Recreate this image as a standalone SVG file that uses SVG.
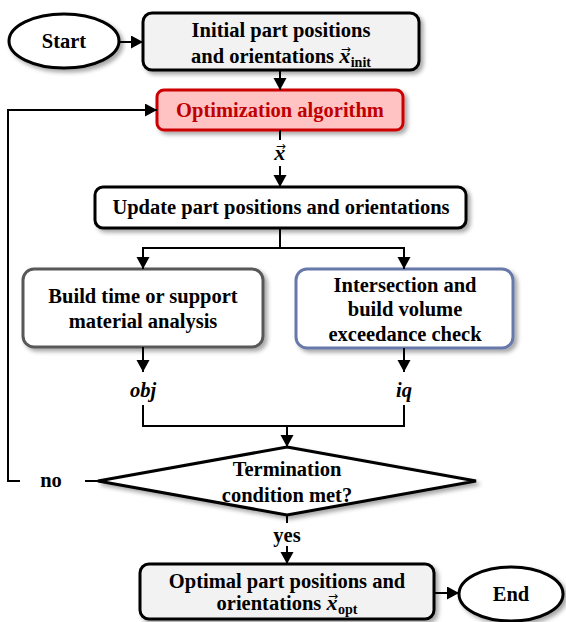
<svg xmlns="http://www.w3.org/2000/svg" width="566" height="622" viewBox="0 0 566 622">
<defs>
<filter id="sh" x="-10%" y="-10%" width="130%" height="140%">
<feDropShadow dx="3" dy="3" stdDeviation="2" flood-color="#000" flood-opacity="0.35"/>
</filter>
<marker id="ah" markerUnits="userSpaceOnUse" markerWidth="14" markerHeight="14" refX="12" refY="6.5" orient="auto">
<path d="M0,0 L12,6.5 L0,13 z" fill="#000"/>
</marker>
</defs>
<style>
text{font-family:"Liberation Serif","Times New Roman",serif;font-weight:bold;font-size:20.5px;fill:#000;text-anchor:middle}
.node{stroke-width:3}
.blk{fill:#fff;stroke:#000}
.gry{fill:#f2f2f2;stroke:#000}
.con{fill:none;stroke:#000;stroke-width:2}
.arr{marker-end:url(#ah)}
.vx{font-style:italic;font-weight:bold;font-size:22px}
.va{font-family:"DejaVu Sans",sans-serif;font-weight:normal;font-size:12px}
.sub{font-size:14px}
.it{font-style:italic}
</style>

<g id="start">
<ellipse class="node blk" cx="64" cy="41" rx="55" ry="27" filter="url(#sh)"/>
<text x="64" y="48">Start</text>
</g>

<g id="init">
<rect class="node gry" x="143" y="13" width="276" height="57" rx="9" filter="url(#sh)"/>
<text x="281" y="37">Initial part positions</text>
<text x="281" y="63">and orientations <tspan class="vx">x</tspan><tspan class="va" dx="-9.5" dy="-10">→</tspan><tspan class="sub" dy="14">init</tspan></text>
</g>

<g id="optim">
<rect class="node" x="157" y="90" width="246" height="40" rx="7" fill="#ffc3c3" stroke="#cc0000" filter="url(#sh)"/>
<text x="280" y="117" style="fill:#c00000">Optimization algorithm</text>
</g>

<g id="update">
<rect class="node blk" x="95" y="187" width="371" height="41" rx="8" filter="url(#sh)"/>
<text x="281" y="214">Update part positions and orientations</text>
</g>

<g id="analysis">
<rect class="node" x="23" y="269" width="240" height="78" rx="11" fill="#fff" stroke="#595959" filter="url(#sh)"/>
<text x="143" y="303">Build time or support</text>
<text x="143" y="328">material analysis</text>
</g>

<g id="check">
<rect class="node" x="296" y="269" width="217" height="79" rx="11" fill="#fff" stroke="#6679a8" filter="url(#sh)"/>
<text x="405" y="292">Intersection and</text>
<text x="405" y="316">build volume</text>
<text x="405" y="341">exceedance check</text>
</g>

<g id="decision">
<polygon class="node blk" points="287,447 476,481 287,515 98,481" stroke-linejoin="miter" filter="url(#sh)"/>
<text x="287" y="476">Termination</text>
<text x="287" y="502">condition met?</text>
</g>

<g id="final">
<rect class="node gry" x="140" y="564" width="294" height="55" rx="9" filter="url(#sh)"/>
<text x="287" y="588">Optimal part positions and</text>
<text x="287" y="610">orientations <tspan class="vx">x</tspan><tspan class="va" dx="-9.5" dy="-10">→</tspan><tspan class="sub" dy="14">opt</tspan></text>
</g>

<g id="end">
<ellipse class="node blk" cx="511" cy="594" rx="52" ry="27" filter="url(#sh)"/>
<text x="511" y="601">End</text>
</g>

<g id="connectors">
<path class="con arr" d="M119,42 H143"/>
<path class="con arr" d="M280,70 V90"/>
<path class="con" d="M280,130 V140"/>
<path class="con arr" d="M280,166 V187"/>
<path class="con" d="M280,228 V248"/>
<path class="con arr" d="M280,248 H143 V269"/>
<path class="con arr" d="M280,248 H404 V269"/>
<path class="con arr" d="M143,347 V372"/>
<path class="con arr" d="M404,348 V372"/>
<path class="con" d="M143,405 V426 H404 V405"/>
<path class="con arr" d="M287,426 V447"/>
<path class="con" d="M287,515 V523"/>
<path class="con arr" d="M287,546 V564"/>
<path class="con arr" d="M434,593 H459"/>
<path class="con" d="M98,481 H85"/>
<path class="con arr" d="M20,481 H8 V110 H157"/>
</g>

<g id="labels">
<text x="280" y="160"><tspan class="vx">x</tspan><tspan class="va" dx="-9.5" dy="-10">→</tspan></text>
<text x="143" y="397" class="it">obj</text>
<text x="404" y="397" class="it">iq</text>
<text x="51" y="487">no</text>
<text x="287" y="542">yes</text>
</g>
</svg>
